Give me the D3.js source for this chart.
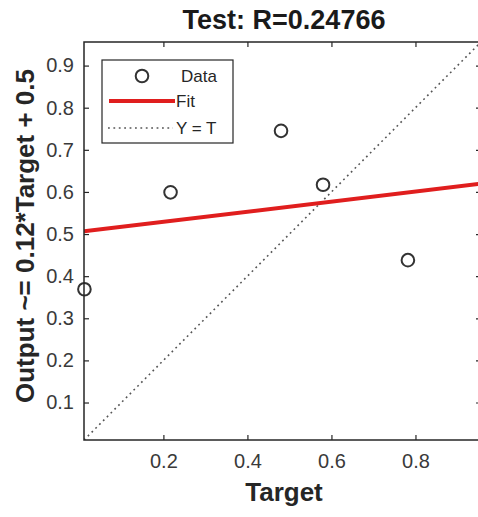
<!DOCTYPE html>
<html><head><meta charset="utf-8">
<script src="https://cdn.jsdelivr.net/npm/d3@7"></script>
<style>
body{margin:0;background:#fff;}
svg{display:block;}
text{font-family:Arial,"Liberation Sans",Helvetica,sans-serif;}
</style></head>
<body>
<svg id="c" width="478" height="517"></svg>
<script>
// data
const targets = [0.012, 0.217, 0.480, 0.580, 0.782];
const outputs = [0.369, 0.599, 0.745, 0.617, 0.438];
const fitSlope = 0.12;
const fitIntercept = 0.505;
const axisLimits = [0.011, 0.956];
const tickValues = [0.1, 0.2, 0.3, 0.4, 0.5, 0.6, 0.7, 0.8, 0.9];
const titleText = "Test: R=0.24766";
const xLabelText = "Target";
const yLabelText = "Output ~= 0.12*Target + 0.5";
const legendLabels = ["Data", "Fit", "Y = T"];

const svg = d3.select("#c");
const L = 84, R = 481, T = 42, B = 440;
const x = d3.scaleLinear().domain(axisLimits).range([L, R]);
const y = d3.scaleLinear().domain(axisLimits).range([B, T]);
const axCol = "#262626", tickCol = "#3a3a3a";

const clip = svg.append("defs").append("clipPath").attr("id","pc")
  .append("rect").attr("x",L).attr("y",T).attr("width",R-L).attr("height",B-T);

const plot = svg.append("g").attr("clip-path","url(#pc)");
// Y = T line
plot.append("line")
  .attr("x1", x(axisLimits[0])).attr("y1", y(axisLimits[0]))
  .attr("x2", x(axisLimits[1])).attr("y2", y(axisLimits[1]))
  .attr("stroke","#555").attr("stroke-width",1.6).attr("stroke-dasharray","1.8,3.6");
// Fit line
plot.append("line")
  .attr("x1", x(axisLimits[0])).attr("y1", y(fitIntercept + fitSlope*axisLimits[0]))
  .attr("x2", x(axisLimits[1])).attr("y2", y(fitIntercept + fitSlope*axisLimits[1]))
  .attr("stroke","#e01e1e").attr("stroke-width",4);
// data circles
svg.append("g").selectAll("circle").data(targets).join("circle")
  .attr("cx",(d)=>x(d)).attr("cy",(d,i)=>y(outputs[i])).attr("r",6.3)
  .attr("fill","none").attr("stroke","#333").attr("stroke-width",2);

// axes
const fmt = d3.format(".1f");
const xAxis = d3.axisBottom(x).tickValues(tickValues.filter(v=>v%0.2<1e-9||Math.abs(v%0.2-0.2)<1e-9)).tickSize(-5).tickPadding(14).tickFormat(fmt);
const yAxis = d3.axisLeft(y).tickValues(tickValues).tickSize(-5).tickPadding(10).tickFormat(fmt);
const xTop = d3.axisTop(x).tickValues(xAxis.tickValues()).tickSize(-5).tickFormat("");
const yRight = d3.axisRight(y).tickValues(tickValues).tickSize(-5).tickFormat("");

function style(g){
  g.select(".domain").remove();
  g.selectAll(".tick line").attr("stroke",axCol).attr("stroke-width",1.2);
  g.selectAll(".tick text").attr("fill",tickCol).attr("font-size",20);
}
svg.append("g").attr("transform",`translate(0,${B})`).call(xAxis).call(style);
svg.append("g").attr("transform",`translate(${L},0)`).call(yAxis).call(style);
svg.append("g").attr("transform",`translate(0,${T})`).call(xTop).call(style);
svg.append("g").attr("transform",`translate(${R},0)`).call(yRight).call(style);
// box
svg.append("rect").attr("x",L).attr("y",T).attr("width",R-L).attr("height",B-T)
  .attr("fill","none").attr("stroke",axCol).attr("stroke-width",1.5);

// title & labels
svg.append("text").attr("x",284).attr("y",29).attr("text-anchor","middle")
  .attr("font-weight","bold").attr("font-size",27).attr("fill","#1a1a1a").text(titleText);
svg.append("text").attr("x",284).attr("y",501).attr("text-anchor","middle")
  .attr("font-weight","bold").attr("font-size",26).attr("fill","#262626").text(xLabelText);
svg.append("text").attr("transform","translate(34,236) rotate(-90)").attr("text-anchor","middle")
  .attr("font-weight","bold").attr("font-size",26).attr("fill","#262626").text(yLabelText);

// legend
const lg = svg.append("g");
lg.append("rect").attr("x",102).attr("y",60).attr("width",131).attr("height",83)
  .attr("fill","#fff").attr("stroke",axCol).attr("stroke-width",1.2);
lg.append("circle").attr("cx",142).attr("cy",76).attr("r",6.3).attr("fill","none").attr("stroke","#333").attr("stroke-width",2);
lg.append("line").attr("x1",109).attr("x2",175).attr("y1",101).attr("y2",101).attr("stroke","#e01e1e").attr("stroke-width",4);
lg.append("line").attr("x1",108).attr("x2",173).attr("y1",128).attr("y2",128).attr("stroke","#555").attr("stroke-width",1.6).attr("stroke-dasharray","1.8,3.6");
const ly = [82, 107, 134], lx = [181, 176, 176];
lg.selectAll("text.l").data(legendLabels).join("text").attr("class","l")
  .attr("x",(d,i)=>lx[i]).attr("y",(d,i)=>ly[i]).attr("font-size",17).attr("fill","#262626").text(d=>d);
</script>
</body></html>
